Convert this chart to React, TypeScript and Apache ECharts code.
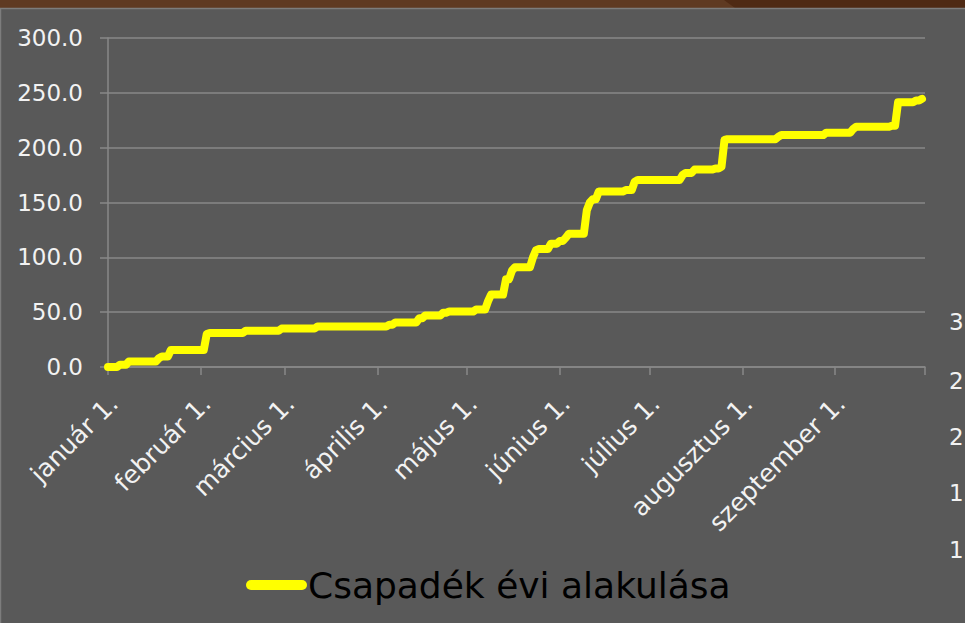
import React, { useEffect, useRef } from "react";
import * as echarts from "echarts";

// Month names and lengths (axis runs from január 1. to október 1.)
const monthNames = ["január", "február", "március", "április", "május", "június", "július", "augusztus", "szeptember", "október"];
const monthLengths = [31, 28, 31, 30, 31, 30, 31, 31, 30, 1];

// Rain events: dates on which the cumulative total changed, and the cumulative total (mm) after that day
const eventDates = [
  "január 1.", "január 5.", "január 8.", "január 18.", "január 19.", "január 22.",
  "február 3.", "február 4.", "február 16.", "február 28.",
  "március 12.",
  "április 5.", "április 7.", "április 15.", "április 17.", "április 23.", "április 25.",
  "május 4.", "május 8.", "május 9.", "május 14.", "május 16.", "május 17.", "május 23.", "május 24.", "május 25.", "május 29.",
  "június 1.", "június 3.", "június 4.", "június 10.", "június 11.", "június 12.", "június 14.", "június 23.", "június 26.", "június 27.",
  "július 12.", "július 13.", "július 16.", "július 23.", "július 25.", "július 26.", "július 27.",
  "augusztus 13.", "augusztus 14.", "augusztus 29.",
  "szeptember 7.", "szeptember 8.", "szeptember 20.", "szeptember 22.", "szeptember 28.", "szeptember 30.",
];
const eventTotals = [
  0, 2, 5, 8, 9.5, 15.5,
  30, 31, 33, 35,
  37,
  38.5, 40.5, 44.5, 47, 49.5, 50.5,
  52.4, 60, 66, 80, 88, 91, 100, 106.5, 107.5, 112.5,
  115, 118, 121.5, 143, 150, 153, 160, 161.3, 169, 170.5,
  175, 177, 180, 181, 182.5, 207, 207.7,
  210, 211.5, 213.7,
  217, 219, 220, 241.5, 243, 244.5,
];
const lastDataDate = "szeptember 30.";

// Y axis ticks
const yMin = 0;
const yMax = 300;
const yStep = 50;

// Partial labels of the neighbouring chart visible at the right edge
const neighbourLabels = ["3", "2", "2", "1", "1"];
const neighbourLabelY = [322, 381, 437, 493, 550];

const seriesName = "Csapadék évi alakulása";

// Build daily categories
const categories: string[] = [];
monthNames.forEach((m, mi) => {
  for (let d = 1; d <= monthLengths[mi]; d++) categories.push(`${m} ${d}.`);
});
const isMonthStart = (label: string) => / 1\.$/.test(label);

// Cumulative total per day (held between rain events)
const lastIdx = categories.indexOf(lastDataDate);
const eventIdx = eventDates.map((d) => categories.indexOf(d));
const dailyTotals: (number | null)[] = categories.map((_, i) => {
  if (i > lastIdx) return null;
  let v: number | null = null;
  for (let k = 0; k < eventIdx.length; k++) if (eventIdx[k] <= i) v = eventTotals[k];
  return v;
});

const FONT = "DejaVu Sans";
const GRID = "#888888";

export default function App() {
  const ref = useRef<HTMLDivElement>(null);
  useEffect(() => {
    if (!ref.current) return;
    const chart = echarts.init(ref.current, null, { renderer: "svg" });
    const lastCat = categories.length - 1;
    chart.setOption({
      animation: false,
      backgroundColor: "#595959",
      grid: { left: 108, right: 40, top: 38, bottom: 256, containLabel: false },
      legend: {
        left: 241,
        top: 562,
        itemWidth: 61,
        itemHeight: 10,
        itemGap: 0,
        icon: "path://M5,0 H56 A5,5 0 0 1 56,10 H5 A5,5 0 0 1 5,0 Z",
        textStyle: { color: "#000000", fontSize: 36, fontFamily: FONT, padding: [0, 0, 0, -4] },
        data: [{ name: seriesName, itemStyle: { color: "#ffff00" } }],
      },
      xAxis: {
        type: "category",
        data: categories,
        boundaryGap: false,
        axisLine: { show: true, lineStyle: { color: GRID, width: 1.5 } },
        axisTick: {
          show: true,
          length: 8,
          interval: (i: number, v: string) => isMonthStart(v) || i === lastCat,
          lineStyle: { color: GRID, width: 1.5 },
        },
        axisLabel: {
          interval: (i: number, v: string) => isMonthStart(v) && i !== lastCat,
          rotate: 45,
          margin: 38,
          padding: [0, -8, 0, 0],
          color: "#f2f2f2",
          fontSize: 25,
          fontFamily: FONT,
        },
        splitLine: { show: false },
      },
      yAxis: {
        type: "value",
        min: yMin,
        max: yMax,
        interval: yStep,
        axisLine: { show: true, lineStyle: { color: GRID, width: 1.5 } },
        axisTick: { show: true, length: 8, lineStyle: { color: GRID, width: 1.5 } },
        axisLabel: {
          margin: 25,
          color: "#f2f2f2",
          fontSize: 23,
          fontFamily: FONT,
          formatter: (v: number) => v.toFixed(1),
        },
        splitLine: { show: true, lineStyle: { color: GRID, width: 1.5 } },
      },
      series: [
        {
          name: seriesName,
          type: "line",
          data: dailyTotals,
          symbol: "none",
          showSymbol: false,
          connectNulls: false,
          lineStyle: { color: "#ffff00", width: 8, cap: "round", join: "round" },
          itemStyle: { color: "#ffff00" },
        },
      ],
      graphic: [
        { type: "rect", shape: { x: 0, y: 0, width: 965, height: 8 }, style: { fill: "#5f3a22" }, silent: true },
        { type: "polygon", shape: { points: [[724, 0], [965, 0], [965, 8], [735, 8]] }, style: { fill: "#4f2a14" }, silent: true },
        { type: "line", shape: { x1: 0, y1: 8.5, x2: 965, y2: 8.5 }, style: { stroke: "#7d7d7d", lineWidth: 1.5 }, silent: true },
        { type: "line", shape: { x1: 0.5, y1: 8, x2: 0.5, y2: 623 }, style: { stroke: "#7d7d7d", lineWidth: 1.5 }, silent: true },
        ...neighbourLabels.map((t, i) => ({
          type: "text",
          x: 949,
          y: neighbourLabelY[i],
          silent: true,
          style: { text: t, fill: "#f2f2f2", fontSize: 23, fontFamily: FONT, verticalAlign: "middle", align: "left" },
        })),
      ],
    });
    return () => chart.dispose();
  }, []);
  return (
    <div
      ref={ref}
      style={{ position: "absolute", left: 0, top: 0, width: 965, height: 623, overflow: "hidden" }}
    />
  );
}
